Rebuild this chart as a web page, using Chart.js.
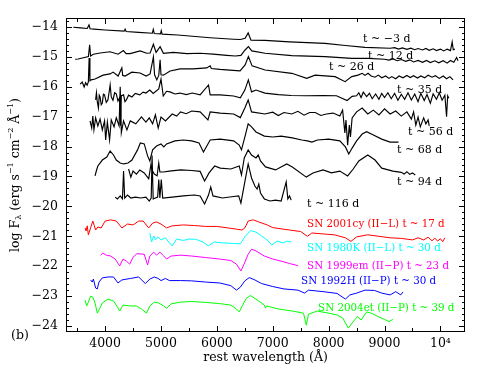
<!DOCTYPE html>
<html>
<head>
<meta charset="utf-8">
<script src="https://cdn.jsdelivr.net/npm/chart.js@4.4.0/dist/chart.umd.min.js"></script>
<style>
  body { margin: 0; background: #fff; }
  #wrap { width: 498px; height: 374px; }
</style>
</head>
<body>
<div id="wrap"><canvas id="spectra" width="498" height="374"></canvas></div>
<script>
// spektrum [panjang gelombang (A), log F]
const spM3 = [[3430,-14.01],[3560,-14.03],[3680,-14.05],[3712,-13.93],[3730,-14.06],[3800,-14.07],[4000,-14.10],[4340,-14.14],[4358,-14.07],[4376,-14.15],[4600,-14.18],[4845,-14.21],[4862,-14.08],[4880,-14.22],[4990,-14.23],[5005,-14.12],[5020,-14.24],[5300,-14.27],[5880,-14.36],[6300,-14.41],[6420,-14.42],[6505,-14.38],[6560,-14.20],[6610,-14.44],[6860,-14.45],[7300,-14.50],[7935,-14.55],[8300,-14.62],[8650,-14.68],[9100,-14.71],[9180,-14.69],[9250,-14.74],[9320,-14.70],[9400,-14.75],[9470,-14.71],[9540,-14.76],[9600,-14.72],[9680,-14.77],[9740,-14.72],[9800,-14.78],[9870,-14.73],[9930,-14.79],[10000,-14.74],[10060,-14.80],[10120,-14.74],[10180,-14.79],[10210,-14.50],[10230,-14.76],[10260,-14.74]];
const sp12 = [[3463,-15.08],[3517,-15.07],[3701,-14.99],[3723,-14.60],[3740,-14.97],[3790,-14.91],[3911,-14.87],[4089,-14.83],[4233,-14.91],[4327,-14.79],[4375,-14.89],[4447,-14.89],[4626,-14.80],[4746,-14.88],[4805,-14.87],[4864,-14.58],[4912,-14.85],[4984,-14.66],[5043,-14.88],[5222,-14.85],[5462,-14.89],[5700,-14.88],[5932,-14.91],[6177,-14.95],[6330,-14.97],[6430,-14.95],[6505,-14.77],[6564,-14.66],[6625,-14.80],[6862,-14.88],[7340,-14.96],[7936,-14.99],[8413,-15.05],[8705,-15.05],[9000,-15.08],[9080,-15.11],[9150,-15.07],[9230,-15.13],[9300,-15.09],[9380,-15.15],[9450,-15.10],[9520,-15.17],[9600,-15.12],[9680,-15.18],[9750,-15.12],[9820,-15.19],[9900,-15.13],[9970,-15.20],[10050,-15.13],[10120,-15.21],[10180,-15.12],[10240,-15.18],[10290,-15.02],[10315,-15.13]];
const sp26 = [[3553,-15.91],[3590,-15.84],[3625,-16.01],[3650,-15.86],[3678,-15.95],[3700,-15.84],[3714,-15.04],[3728,-15.80],[3750,-15.77],[3821,-15.74],[3964,-15.61],[4089,-15.57],[4143,-15.51],[4233,-15.64],[4299,-15.37],[4315,-15.62],[4358,-15.64],[4478,-15.51],[4626,-15.54],[4733,-15.64],[4805,-15.57],[4864,-15.00],[4885,-15.60],[4925,-15.77],[4960,-15.62],[4984,-15.10],[5000,-15.60],[5043,-15.61],[5163,-15.47],[5342,-15.40],[5574,-15.40],[5819,-15.37],[5880,-15.30],[5900,-15.39],[6057,-15.42],[6290,-15.45],[6415,-15.47],[6505,-15.27],[6564,-14.99],[6630,-15.30],[6862,-15.44],[7340,-15.55],[7608,-15.72],[7757,-15.61],[8115,-15.66],[8294,-15.83],[8413,-15.66],[8526,-15.61],[8600,-15.55],[8650,-15.62],[8705,-15.55],[8760,-15.64],[8830,-15.68],[8890,-15.61],[8950,-15.70],[9020,-15.64],[9080,-15.72],[9130,-15.66],[9200,-15.73],[9260,-15.64],[9330,-15.70],[9400,-15.62],[9460,-15.69],[9520,-15.63],[9590,-15.71],[9650,-15.64],[9720,-15.70],[9780,-15.61],[9850,-15.68],[9910,-15.63],[9980,-15.72],[10050,-15.64],[10110,-15.73],[10170,-15.66],[10226,-15.77]];
const sp35 = [[3830,-16.44],[3845,-16.20],[3860,-16.50],[3880,-16.71],[3895,-16.28],[3910,-16.34],[3930,-16.60],[3950,-16.54],[3970,-16.25],[3990,-16.27],[4020,-16.52],[4050,-16.44],[4070,-16.20],[4090,-15.94],[4110,-16.34],[4140,-16.45],[4170,-16.20],[4200,-16.24],[4230,-16.48],[4260,-16.37],[4275,-17.30],[4290,-16.30],[4330,-16.27],[4355,-16.50],[4380,-16.44],[4420,-16.28],[4480,-16.34],[4540,-16.22],[4620,-16.27],[4680,-16.18],[4730,-16.21],[4800,-16.11],[4860,-16.22],[4960,-16.07],[5000,-15.74],[5040,-16.31],[5100,-16.15],[5160,-16.17],[5250,-16.24],[5340,-16.21],[5450,-16.26],[5560,-16.21],[5700,-16.27],[5850,-15.94],[5880,-16.27],[6060,-16.27],[6300,-16.31],[6420,-16.37],[6500,-16.11],[6563,-15.77],[6620,-16.17],[6700,-16.11],[6860,-16.21],[7100,-16.26],[7330,-16.29],[7600,-16.30],[7900,-16.29],[8140,-16.30],[8330,-16.46],[8420,-16.32],[8500,-16.30],[8540,-16.20],[8580,-16.36],[8620,-16.18],[8680,-16.33],[8730,-16.22],[8780,-16.40],[8840,-16.24],[8900,-16.42],[8950,-16.22],[9000,-16.36],[9060,-16.20],[9120,-16.40],[9180,-16.22],[9240,-16.45],[9300,-16.25],[9360,-16.42],[9420,-16.20],[9480,-16.44],[9540,-16.24],[9600,-16.50],[9650,-16.22],[9710,-16.46],[9760,-16.26],[9820,-16.55],[9870,-16.24],[9930,-16.42],[9980,-16.20],[10030,-16.45],[10080,-16.28],[10110,-17.00],[10130,-16.30],[10150,-16.38]];
const sp56 = [[3730,-17.14],[3760,-17.38],[3780,-16.98],[3800,-17.44],[3830,-17.04],[3870,-17.31],[3910,-17.08],[3950,-17.44],[3990,-17.14],[4010,-17.78],[4040,-17.18],[4080,-17.78],[4110,-17.11],[4160,-17.34],[4200,-17.04],[4250,-17.31],[4270,-16.00],[4290,-17.54],[4330,-17.14],[4390,-17.44],[4450,-17.14],[4550,-17.24],[4650,-17.01],[4730,-17.18],[4790,-17.04],[4850,-17.24],[4900,-16.94],[4950,-17.38],[5000,-17.01],[5080,-17.14],[5200,-16.91],[5280,-16.98],[5350,-16.84],[5450,-16.90],[5550,-16.81],[5700,-16.84],[5840,-17.11],[5880,-16.84],[6060,-16.88],[6300,-16.91],[6420,-17.03],[6500,-16.71],[6560,-16.44],[6620,-16.84],[6860,-16.91],[7000,-16.85],[7100,-16.96],[7200,-16.86],[7340,-16.91],[7450,-16.82],[7560,-16.95],[7660,-16.86],[7760,-16.86],[7860,-16.96],[7960,-16.91],[8080,-16.88],[8200,-16.98],[8250,-16.78],[8290,-17.54],[8310,-17.11],[8340,-17.95],[8370,-17.28],[8390,-17.68],[8420,-17.04],[8500,-16.84],[8600,-16.71],[8700,-16.91],[8800,-16.78],[8900,-16.94],[9000,-16.74],[9100,-16.91],[9200,-16.81],[9300,-16.98],[9400,-16.84],[9480,-17.08],[9520,-16.84],[9560,-17.28],[9600,-17.01],[9640,-17.34],[9700,-17.04],[9740,-17.24],[9780,-17.11],[9800,-17.31]];
const sp68 = [[3820,-18.98],[3845,-18.80],[3870,-18.65],[3950,-18.45],[4030,-18.35],[4090,-18.15],[4150,-18.28],[4200,-18.45],[4270,-18.55],[4330,-18.58],[4410,-18.55],[4480,-18.45],[4580,-18.11],[4630,-17.88],[4700,-17.91],[4760,-18.31],[4800,-18.48],[4850,-18.11],[4920,-17.98],[5000,-17.91],[5050,-18.01],[5100,-17.91],[5250,-17.81],[5400,-17.78],[5550,-17.81],[5680,-17.88],[5760,-18.18],[5820,-17.98],[5880,-17.78],[6060,-17.75],[6300,-17.81],[6400,-17.95],[6440,-18.11],[6500,-17.68],[6560,-17.24],[6620,-17.34],[6700,-17.51],[6850,-17.65],[7000,-17.68],[7150,-17.65],[7350,-17.71],[7520,-17.78],[7620,-17.81],[7700,-17.85],[7800,-17.78],[8000,-17.75],[8200,-17.81],[8300,-18.01],[8360,-18.25],[8420,-18.05],[8500,-17.81],[8600,-17.58],[8680,-17.50],[8800,-17.61],[8950,-17.75],[9100,-17.85],[9250,-17.85]];
const sp94 = [[4420,-18.75],[4460,-19.02],[4500,-18.82],[4560,-18.92],[4620,-18.78],[4700,-18.88],[4780,-19.08],[4820,-18.60],[4840,-18.78],[4880,-18.92],[4930,-18.98],[4960,-18.55],[4980,-18.85],[5040,-18.85],[5150,-18.82],[5350,-18.78],[5550,-18.80],[5700,-18.83],[5780,-19.15],[5860,-18.88],[5960,-18.65],[6060,-18.72],[6250,-18.75],[6400,-18.65],[6440,-18.95],[6490,-18.38],[6560,-18.11],[6620,-18.28],[6700,-18.38],[6740,-18.28],[6780,-18.48],[6870,-18.68],[7050,-18.78],[7250,-18.58],[7350,-18.68],[7600,-19.02],[7720,-18.88],[7900,-18.78],[8050,-18.88],[8200,-18.82],[8340,-18.98],[8440,-18.75],[8540,-18.48],[8700,-18.28],[8830,-18.45],[8950,-18.72],[9150,-18.82],[9300,-18.86],[9350,-18.92],[9400,-18.84],[9450,-18.93],[9500,-18.88],[9550,-18.95]];
const sp116 = [[4180,-19.69],[4220,-19.75],[4270,-19.65],[4310,-19.75],[4330,-18.82],[4350,-19.72],[4400,-19.62],[4460,-19.72],[4540,-19.69],[4640,-19.72],[4730,-19.69],[4790,-19.82],[4825,-19.72],[4840,-18.30],[4860,-19.75],[4940,-19.69],[4960,-19.10],[4980,-19.72],[5005,-19.10],[5030,-19.72],[5200,-19.69],[5400,-19.65],[5600,-19.62],[5700,-19.65],[5780,-19.92],[5850,-19.62],[5890,-19.35],[5930,-19.65],[6100,-19.72],[6300,-19.67],[6390,-19.65],[6430,-19.89],[6500,-19.18],[6560,-18.58],[6620,-19.05],[6680,-19.32],[6720,-19.42],[6750,-19.25],[6780,-19.55],[6850,-19.75],[6950,-19.82],[7050,-19.79],[7150,-19.82],[7240,-19.18],[7270,-19.75],[7300,-19.65],[7330,-19.79]];
const sn2001cy = [[3640,-20.72],[3660,-20.82],[3680,-20.65],[3700,-20.95],[3740,-20.72],[3780,-20.49],[3830,-20.79],[3870,-20.69],[3930,-20.72],[4000,-20.49],[4100,-20.45],[4200,-20.49],[4300,-20.72],[4400,-20.59],[4500,-20.62],[4600,-20.49],[4680,-20.49],[4780,-20.72],[4850,-20.56],[4920,-20.52],[5000,-20.59],[5100,-20.72],[5200,-20.65],[5400,-20.62],[5600,-20.64],[5800,-20.67],[6000,-20.67],[6200,-20.72],[6350,-20.76],[6450,-20.79],[6500,-20.72],[6560,-20.49],[6650,-20.45],[6750,-20.52],[6900,-20.62],[7000,-20.71],[7300,-20.79],[7500,-20.84],[7620,-21.00],[7700,-20.89],[7900,-20.92],[8100,-20.95],[8300,-21.05],[8400,-21.17],[8500,-21.02],[8700,-20.95],[8900,-21.00],[9100,-21.05],[9300,-21.07],[9500,-21.12],[9600,-21.05],[9700,-21.12],[9780,-21.03],[9850,-21.15],[9900,-21.06],[9950,-21.16],[10000,-21.08],[10040,-21.18],[10080,-21.05]];
const sn1980K = [[4800,-20.89],[4830,-21.19],[4870,-20.99],[4900,-21.12],[4950,-21.02],[5000,-21.12],[5080,-21.05],[5150,-21.22],[5200,-21.32],[5280,-21.09],[5400,-21.14],[5500,-21.09],[5620,-21.10],[5750,-21.19],[5850,-21.32],[5950,-21.19],[6100,-21.22],[6300,-21.24],[6420,-21.25],[6500,-21.02],[6600,-20.81],[6700,-20.86],[6800,-20.99],[6900,-21.12],[6980,-21.29],[7080,-21.16],[7180,-21.22],[7260,-21.16],[7330,-21.19]];
const sn1999em = [[3920,-21.63],[3960,-21.56],[4020,-21.63],[4100,-21.66],[4180,-21.76],[4260,-21.99],[4320,-21.76],[4380,-21.83],[4440,-21.93],[4500,-21.70],[4570,-21.58],[4700,-21.60],[4760,-21.96],[4800,-21.66],[4870,-21.53],[4920,-21.63],[4980,-21.53],[5050,-21.66],[5100,-21.76],[5180,-21.66],[5350,-21.63],[5550,-21.66],[5800,-21.71],[6050,-21.76],[6250,-21.81],[6350,-21.93],[6430,-22.16],[6480,-21.96],[6560,-21.60],[6620,-21.43],[6700,-21.49],[6850,-21.66],[7000,-21.76],[7150,-21.83],[7300,-21.91],[7450,-21.98]];
const sn1992H = [[3740,-22.46],[3770,-22.53],[3790,-22.43],[3830,-22.73],[3860,-22.76],[3890,-22.53],[3950,-22.39],[4050,-22.36],[4150,-22.36],[4230,-22.56],[4300,-22.46],[4450,-22.41],[4600,-22.36],[4720,-22.58],[4800,-22.43],[4880,-22.36],[4950,-22.41],[5000,-22.48],[5080,-22.41],[5150,-22.48],[5350,-22.48],[5550,-22.49],[5800,-22.53],[6050,-22.56],[6250,-22.65],[6350,-22.80],[6420,-22.70],[6500,-22.49],[6580,-22.38],[6680,-22.46],[6800,-22.58],[7000,-22.68],[7200,-22.76],[7450,-22.80],[7570,-22.90],[7640,-22.80],[7900,-22.85],[8150,-22.91],[8300,-23.10],[8380,-22.96],[8500,-22.90],[8650,-22.80],[8820,-22.81],[8950,-22.90],[9100,-22.96],[9200,-22.85],[9290,-22.96],[9330,-22.86]];
const sn2004et = [[3640,-23.13],[3670,-23.33],[3700,-23.20],[3740,-23.00],[3780,-23.03],[3820,-23.23],[3860,-23.57],[3900,-23.43],[3950,-23.23],[4050,-23.10],[4150,-23.16],[4220,-23.36],[4260,-23.50],[4320,-23.30],[4450,-23.33],[4560,-23.33],[4650,-23.43],[4740,-23.57],[4800,-23.33],[4880,-23.20],[4960,-23.23],[5050,-23.33],[5100,-23.41],[5180,-23.26],[5350,-23.20],[5550,-23.18],[5800,-23.21],[6050,-23.25],[6250,-23.30],[6350,-23.43],[6400,-23.53],[6460,-23.30],[6530,-23.07],[6600,-22.98],[6700,-23.10],[6850,-23.30],[6870,-23.40],[6890,-23.33],[7100,-23.43],[7350,-23.50],[7550,-23.57],[7600,-23.97],[7640,-23.60],[7800,-23.50],[8000,-23.57],[8150,-23.63],[8250,-23.73],[8350,-24.07],[8450,-23.83],[8520,-23.68],[8580,-23.80],[8680,-23.53],[8780,-23.58],[8900,-23.70],[9000,-23.78],[9080,-23.85],[9150,-23.78]];

const xTicks = [4000, 5000, 6000, 7000, 8000, 9000, 10000];
const yTicks = [-14, -15, -16, -17, -18, -19, -20, -21, -22, -23, -24];

// label teks: [teks, panjang gelombang, log F, warna]
const labels = [
    ['t ~ \u22123 d', 8616, -14.40, '#000'],
    ['t ~ 12 d', 8705, -14.97, '#000'],
    ['t ~ 26 d', 8007, -15.34, '#000'],
    ['t ~ 35 d', 9224, -16.11, '#000'],
    ['t ~ 56 d', 9421, -17.51, '#000'],
    ['t ~ 68 d', 9224, -18.11, '#000'],
    ['t ~ 94 d', 9224, -19.18, '#000'],
    ['t ~ 116 d', 7614, -19.92, '#000'],
    ['SN 2001cy (II\u2212L) t ~ 17 d', 7614, -20.59, '#ff0000'],
    ['SN 1980K (II\u2212L) t ~ 30 d', 7614, -21.39, '#00ffff'],
    ['SN 1999em (II\u2212P) t ~ 23 d', 7614, -21.99, '#ff00ff'],
    ['SN 1992H (II\u2212P) t ~ 30 d', 7507, -22.49, '#0000ff'],
    ['SN 2004et (II\u2212P) t ~ 39 d', 7811, -23.40, '#00ff00']
];

const font = 'DejaVu Serif';

function series(points, color) {
    return {
        data: points.map(p => ({ x: p[0], y: p[1] })),
        borderColor: color,
        borderWidth: color === '#000' ? 1.15 : 1,
        pointRadius: 0,
        showLine: true,
        tension: 0
    };
}

// kotak, tick ke dalam, dan teks tambahan
const decor = {
    id: 'decor',
    afterDatasetsDraw(chart) {
        const { ctx, chartArea: a, scales: { x, y } } = chart;
        ctx.save();
        ctx.strokeStyle = '#000';
        ctx.lineWidth = 1;
        ctx.strokeRect(a.left + 0.5, a.top + 0.5, a.right - a.left - 1, a.bottom - a.top - 1);
        ctx.beginPath();
        for (let v = 3500; v <= 10400; v += 500) {
            const px = Math.round(x.getPixelForValue(v)) + 0.5;
            const len = v % 1000 === 0 ? 6 : 4;
            ctx.moveTo(px, a.bottom); ctx.lineTo(px, a.bottom - len);
            ctx.moveTo(px, a.top); ctx.lineTo(px, a.top + len);
        }
        for (let i = -120; i <= -69; i++) {
            const v = i / 5;
            const py = Math.round(y.getPixelForValue(v)) + 0.5;
            const len = i % 5 === 0 ? 6 : 3;
            ctx.moveTo(a.left, py); ctx.lineTo(a.left + len, py);
            ctx.moveTo(a.right, py); ctx.lineTo(a.right - len, py);
        }
        ctx.stroke();

        ctx.textBaseline = 'middle';
        ctx.textAlign = 'left';
        labels.forEach(l => {
            ctx.font = (l[3] === '#000' ? '11px "' : '10.3px "') + font + '"';
            ctx.fillStyle = l[3];
            ctx.fillText(l[0], x.getPixelForValue(l[1]), y.getPixelForValue(l[2]));
        });

        ctx.fillStyle = '#000';
        ctx.font = '12.5px "' + font + '"';
        ctx.textAlign = 'center';
        ctx.fillText('rest wavelength (\u00c5)', (a.left + a.right) / 2, 358);
        ctx.textAlign = 'left';
        ctx.fillText('(b)', 11, 336);

        // judul sumbu y dengan subskrip dan superskrip
        const parts = [['log F', 0], ['\u03bb', 1], [' (erg s', 0], ['\u22121', 2], [' cm', 0], ['\u22122', 2], [' \u00c5', 0], ['\u22121', 2], [')', 0]];
        const big = '12.5px "' + font + '"', small = '8px "' + font + '"';
        let total = 0;
        parts.forEach(p => { ctx.font = p[1] ? small : big; total += ctx.measureText(p[0]).width; });
        ctx.translate(16, (a.top + a.bottom) / 2);
        ctx.rotate(-Math.PI / 2);
        let cx = -total / 2;
        parts.forEach(p => {
            ctx.font = p[1] ? small : big;
            const dy = p[1] === 1 ? 3 : (p[1] === 2 ? -5 : 0);
            ctx.fillText(p[0], cx, dy);
            cx += ctx.measureText(p[0]).width;
        });
        ctx.restore();
    }
};

const ctx = document.getElementById('spectra').getContext('2d');
const chart = new Chart(ctx, {
    type: 'scatter',
    data: {
        datasets: [
            series(spM3, '#000'), series(sp12, '#000'), series(sp26, '#000'), series(sp35, '#000'),
            series(sp56, '#000'), series(sp68, '#000'), series(sp94, '#000'), series(sp116, '#000'),
            series(sn2001cy, '#ff0000'), series(sn1980K, '#00ffff'), series(sn1999em, '#ff00ff'),
            series(sn1992H, '#0000ff'), series(sn2004et, '#00ff00')
        ]
    },
    options: {
        responsive: false,
        animation: false,
        layout: { padding: { left: 0, right: 33, top: 18, bottom: 0 } },
        plugins: { legend: { display: false }, tooltip: { enabled: false } },
        scales: {
            x: {
                type: 'linear',
                min: 3300,
                max: 10440,
                grid: { display: false, drawTicks: false },
                border: { display: false },
                afterBuildTicks: s => { s.ticks = xTicks.map(v => ({ value: v })); },
                afterFit: s => { s.height = 42; },
                ticks: {
                    padding: 4,
                    color: '#000',
                    maxRotation: 0,
                    font: { family: font, size: 12.5 },
                    callback: v => v === 10000 ? '10\u2074' : String(v)
                }
            },
            y: {
                type: 'linear',
                min: -24.2,
                max: -13.7,
                grid: { display: false, drawTicks: false },
                border: { display: false },
                afterBuildTicks: s => { s.ticks = yTicks.map(v => ({ value: v })); },
                afterFit: s => { s.width = 66; },
                ticks: {
                    padding: 8,
                    color: '#000',
                    font: { family: font, size: 12.5 },
                    callback: v => String(v).replace('-', '\u2212')
                }
            }
        }
    },
    plugins: [decor]
});
</script>
</body>
</html>
